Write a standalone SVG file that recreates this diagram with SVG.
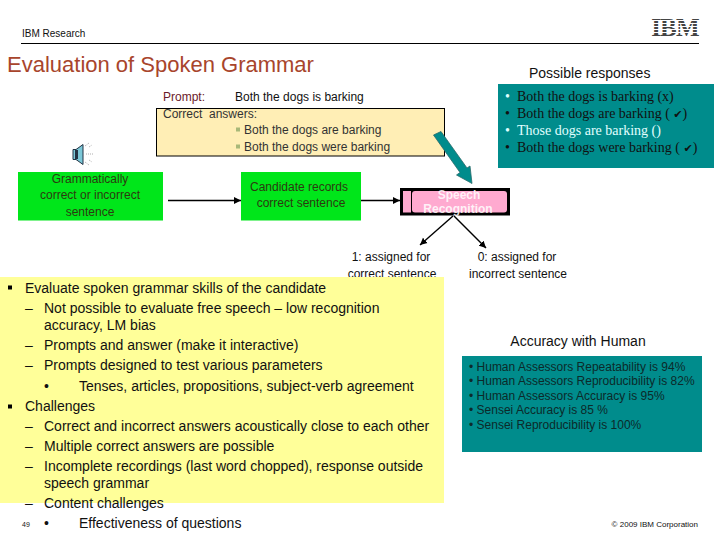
<svg xmlns="http://www.w3.org/2000/svg" width="720" height="540" viewBox="0 0 720 540">
<style>
text{font-family:"Liberation Sans",Arial,sans-serif;fill:#111;font-size:12px}
.m{text-anchor:middle}
.b{font-size:14px}
.g{fill:#2c3a10}
.s{font-family:"Liberation Serif","Times New Roman",serif;font-size:14px;fill:#111}
.a{font-size:12px;fill:#0c2a2a}
.k{font-family:"DejaVu Sans",sans-serif;font-size:11px}
.c{stroke:#000;stroke-width:1.4;fill:none}
</style>
<defs>
<marker id="ah" markerUnits="userSpaceOnUse" markerWidth="8" markerHeight="8" refX="7" refY="4" orient="auto"><path d="M0 0.5L7 4L0 7.5z" fill="#000"/></marker>
</defs>
<rect width="720" height="540" fill="#fff"/>
<g id="header">
<text x="22" y="37" style="font-size:10px">IBM Research</text>
<line x1="21" y1="43.500" x2="699" y2="43.500" stroke="#000" stroke-width="1"/>
<text x="7" y="72" style="font-size:22px;fill:#a8452c">Evaluation of Spoken Grammar</text>
</g>
<g id="ibm-logo">
<text x="675" y="36" class="m" style="font-family:'Liberation Serif',serif;font-weight:bold;font-size:25px;fill:#444;letter-spacing:-0.800px">IBM</text>
<path d="M650 20.500H700M650 23.500H700M650 26.500H700M650 29.500H700M650 32.500H700" stroke="#fff" stroke-width="1"/>
</g>
<g id="prompt">
<text x="163" y="101" style="fill:#6b1a2a">Prompt:</text>
<text x="235" y="101">Both the dogs is barking</text>
<rect x="156.500" y="108.500" width="288" height="47.500" fill="#ffeeb5" stroke="#000" stroke-width="1"/>
<text x="163" y="118" style="fill:#333">Correct</text>
<text x="209" y="118" style="fill:#333">answers:</text>
<rect x="236" y="127.500" width="4" height="4" fill="#a8b878"/>
<text x="244" y="134" style="fill:#333">Both the dogs are barking</text>
<rect x="236" y="144.500" width="4" height="4" fill="#a8b878"/>
<text x="244" y="151" style="fill:#333">Both the dogs were barking</text>
</g>
<g id="speaker">
<path d="M73 149.500h3l7-5v20l-7-5h-3z" fill="#7cc8d8" stroke="#234" stroke-width="1"/>
<rect x="75" y="150" width="3" height="9" fill="#234"/>
<path d="M85 146l4-3M86 154h8M85 162l4 3M89 147l3-2M89 160l3 2" stroke="#999" stroke-width="0.800" stroke-dasharray="1 1" fill="none"/>
</g>
<g id="grammar-node">
<rect x="18" y="172" width="145" height="48.500" fill="#00e61a"/>
<text x="90" y="183" class="m g">Grammatically</text>
<text x="90" y="199" class="m g">correct or incorrect</text>
<text x="90" y="216" class="m g">sentence</text>
</g>
<g id="candidate-node">
<rect x="241" y="172" width="120" height="48.500" fill="#00e61a"/>
<text x="299" y="191" class="m g">Candidate records</text>
<text x="301" y="207" class="m g">correct sentence</text>
</g>
<g id="speech-node">
<rect x="401.500" y="189.500" width="107" height="24.500" fill="#000" stroke="#000" stroke-width="3"/>
<rect x="403" y="191" width="8" height="21.500" fill="#ffaad0"/>
<rect x="412" y="191" width="95" height="21.500" rx="3" fill="#ffaad0"/>
<text x="459" y="199" class="m" style="fill:#fff;font-weight:bold;fill-opacity:.85">Speech</text>
<text x="458" y="213" class="m" style="fill:#fff;font-weight:bold;fill-opacity:.85">Recognition</text>
</g>
<g id="connectors">
<line class="c" x1="168" y1="200.500" x2="241" y2="200.500" marker-end="url(#ah)"/>
<line class="c" x1="361" y1="200.500" x2="400" y2="200.500" marker-end="url(#ah)"/>
<line class="c" x1="453" y1="216" x2="420" y2="245" marker-end="url(#ah)"/>
<line class="c" x1="454" y1="216" x2="486" y2="248" marker-end="url(#ah)"/>
<path d="M433.500 135L441 131.500L467 168L470 166L472 183.500L456.500 175L460 172.500z" fill="#008c8c" stroke="#2a6a6a" stroke-width="0.800"/>
</g>
<g id="label-correct">
<text x="391" y="261" class="m">1: assigned for</text>
<text x="392" y="278" class="m">correct sentence</text>
</g>
<g id="label-incorrect">
<text x="517" y="261" class="m">0: assigned for</text>
<text x="518" y="278" class="m">incorrect sentence</text>
</g>
<g id="responses">
<text x="529" y="78" style="font-size:14px">Possible responses</text>
<rect x="498" y="84" width="216" height="84" fill="#008c8c"/>
<text x="505" y="101" class="s" style="fill:#e0ffff">•</text>
<text x="517" y="101" class="s">Both the dogs is barking (x)</text>
<text x="505" y="118" class="s">•</text>
<text x="517" y="118" class="s">Both the dogs are barking (  <tspan class="k">✔</tspan>)</text>
<text x="505" y="135" class="s" style="fill:#e0ffff">•</text>
<text x="517" y="135" class="s" style="fill:#e0ffff">Those dogs are barking ()</text>
<text x="505" y="152" class="s">•</text>
<text x="517" y="152" class="s">Both the dogs were barking (  <tspan class="k">✔</tspan>)</text>
</g>
<g id="bullets-panel">
<rect x="0" y="277" width="444" height="226" fill="#ffff99"/>
<rect x="8" y="285.500" width="4" height="4" fill="#000"/>
<text class="b" x="25" y="293">Evaluate spoken grammar skills of the candidate</text>
<text class="b" x="25" y="313">–</text><text class="b" x="44" y="313">Not possible to evaluate free speech – low recognition</text>
<text class="b" x="44" y="330">accuracy, LM bias</text>
<text class="b" x="25" y="350">–</text><text class="b" x="44" y="350">Prompts and answer (make it interactive)</text>
<text class="b" x="25" y="370">–</text><text class="b" x="44" y="370">Prompts designed to test various parameters</text>
<text class="b" x="44" y="391">•</text><text class="b" x="79" y="391">Tenses, articles, propositions, subject-verb agreement</text>
<rect x="8" y="404.500" width="4" height="4" fill="#000"/>
<text class="b" x="25" y="411">Challenges</text>
<text class="b" x="25" y="431">–</text><text class="b" x="44" y="431">Correct and incorrect answers acoustically close to each other</text>
<text class="b" x="25" y="451">–</text><text class="b" x="44" y="451">Multiple correct answers are possible</text>
<text class="b" x="25" y="471">–</text><text class="b" x="44" y="471">Incomplete recordings (last word chopped), response outside</text>
<text class="b" x="44" y="488">speech grammar</text>
<text class="b" x="25" y="508">–</text><text class="b" x="44" y="508">Content challenges</text>
<text class="b" x="44" y="528">•</text><text class="b" x="79" y="528">Effectiveness of questions</text>
</g>
<g id="accuracy">
<text x="578" y="346" class="m" style="font-size:14px">Accuracy with Human</text>
<rect x="462" y="356" width="240" height="96" fill="#008c8c"/>
<text x="469" y="371" class="a">• Human Assessors Repeatability is 94%</text>
<text x="469" y="385" class="a">• Human Assessors Reproducibility is 82%</text>
<text x="469" y="400" class="a">• Human Assessors Accuracy is 95%</text>
<text x="469" y="414" class="a">• Sensei Accuracy is 85 %</text>
<text x="469" y="429" class="a">• Sensei Reproducibility is 100%</text>
</g>
<g id="footer">
<text x="22" y="527" style="font-size:7px">49</text>
<text x="698" y="527" style="font-size:8px;text-anchor:end">© 2009 IBM Corporation</text>
</g>
</svg>
